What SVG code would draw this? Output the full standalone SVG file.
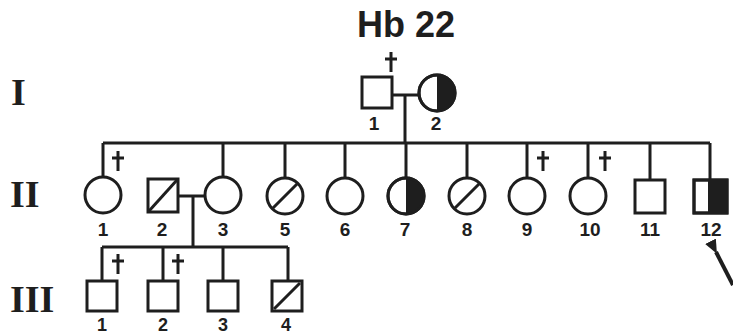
<svg xmlns="http://www.w3.org/2000/svg" width="733" height="335" viewBox="0 0 733 335">
<style>
.s{fill:#fff;stroke:#1e1e1e;stroke-width:3}
.l{fill:none;stroke:#1e1e1e;stroke-width:3}
.f{fill:#1e1e1e;stroke:none}
.n{font-family:"Liberation Sans",Arial,sans-serif;font-weight:bold;font-size:19px;fill:#1e1e1e;text-anchor:middle}
.g{font-family:"Liberation Serif","Times New Roman",serif;font-weight:bold;font-size:38px;fill:#1e1e1e}
.t{font-family:"Liberation Sans",Arial,sans-serif;font-weight:bold;font-size:36px;fill:#1e1e1e;text-anchor:middle}
</style>
<defs>
<g id="cross"><path class="l" d="M0,0 V20 M-6,7 H6"/></g>
<marker id="ah" markerWidth="14" markerHeight="12" refX="2" refY="6" orient="auto" markerUnits="userSpaceOnUse"><path d="M0,6 L14,0 L14,12 Z" fill="#1e1e1e"/></marker>
</defs>
<rect width="733" height="335" fill="#fff"/>
<text class="t" x="406" y="37">Hb 22</text>
<text class="g" x="11" y="105">I</text>
<text class="g" x="10" y="207">II</text>
<text class="g" x="10" y="312">III</text>

<g id="connectors">
<path class="l" d="M392,95 H418 M405,95 V143 M103,143 H710"/>
<path class="l" d="M103,143 V177 M223,143 V177 M285,143 V178 M345,143 V178 M406,143 V178 M467,143 V178 M527,143 V178 M588,143 V178 M650,143 V180 M710,143 V180"/>
<path class="l" d="M178,196 H205 M193,196 V247 M102,247 H288 M102,247 V282 M163,247 V282 M223,247 V282 M288,247 V282"/>
<path d="M733,285 L716,252" fill="none" stroke="#1e1e1e" stroke-width="4" marker-end="url(#ah)"/>
</g>

<g id="I-1"><rect class="s" x="362" y="77" width="30" height="31"/><use href="#cross" x="391" y="52"/><text class="n" x="374" y="130">1</text></g>
<g id="I-2"><circle class="s" cx="437" cy="93" r="18"/><path class="f" d="M437,75 A18,18 0 0 1 437,111 Z"/><circle class="l" cx="437" cy="93" r="18"/><text class="n" x="436" y="130">2</text></g>

<g id="II-1"><circle class="s" cx="103" cy="195" r="18"/><use href="#cross" x="118" y="151"/><text class="n" x="103" y="236">1</text></g>
<g id="II-2"><rect class="s" x="148" y="179" width="30" height="33"/><path class="l" d="M149,211 L177,180"/><text class="n" x="162" y="236">2</text></g>
<g id="II-3"><circle class="s" cx="223" cy="195" r="18"/><text class="n" x="223" y="236">3</text></g>
<g id="II-5"><circle class="s" cx="285" cy="196" r="18"/><path class="l" d="M273,208 L297,184"/><text class="n" x="285" y="236">5</text></g>
<g id="II-6"><circle class="s" cx="345" cy="196" r="18"/><text class="n" x="345" y="236">6</text></g>
<g id="II-7"><circle class="s" cx="406" cy="196" r="18"/><path class="f" d="M406,178 A18,18 0 0 1 406,214 Z"/><circle class="l" cx="406" cy="196" r="18"/><text class="n" x="405" y="236">7</text></g>
<g id="II-8"><circle class="s" cx="467" cy="196" r="18"/><path class="l" d="M455,208 L479,184"/><text class="n" x="467" y="236">8</text></g>
<g id="II-9"><circle class="s" cx="527" cy="196" r="18"/><use href="#cross" x="543" y="151"/><text class="n" x="527" y="236">9</text></g>
<g id="II-10"><circle class="s" cx="588" cy="196" r="18"/><use href="#cross" x="605" y="151"/><text class="n" x="590" y="236">10</text></g>
<g id="II-11"><rect class="s" x="635" y="180" width="30" height="33"/><text class="n" x="650" y="236">11</text></g>
<g id="II-12"><rect class="s" x="694" y="180" width="33" height="33"/><rect class="f" x="708" y="180" width="19" height="33"/><rect class="l" x="694" y="180" width="33" height="33"/><text class="n" x="711" y="236">12</text></g>

<g id="III-1"><rect class="s" x="87" y="281" width="30" height="30"/><use href="#cross" x="118" y="254"/><text class="n" x="102" y="331" style="font-size:18px">1</text></g>
<g id="III-2"><rect class="s" x="148" y="281" width="30" height="30"/><use href="#cross" x="178" y="254"/><text class="n" x="163" y="331" style="font-size:18px">2</text></g>
<g id="III-3"><rect class="s" x="208" y="281" width="30" height="30"/><text class="n" x="223" y="331" style="font-size:18px">3</text></g>
<g id="III-4"><rect class="s" x="272" y="281" width="30" height="30"/><path class="l" d="M274,309 L300,283"/><text class="n" x="286" y="331" style="font-size:18px">4</text></g>
</svg>
